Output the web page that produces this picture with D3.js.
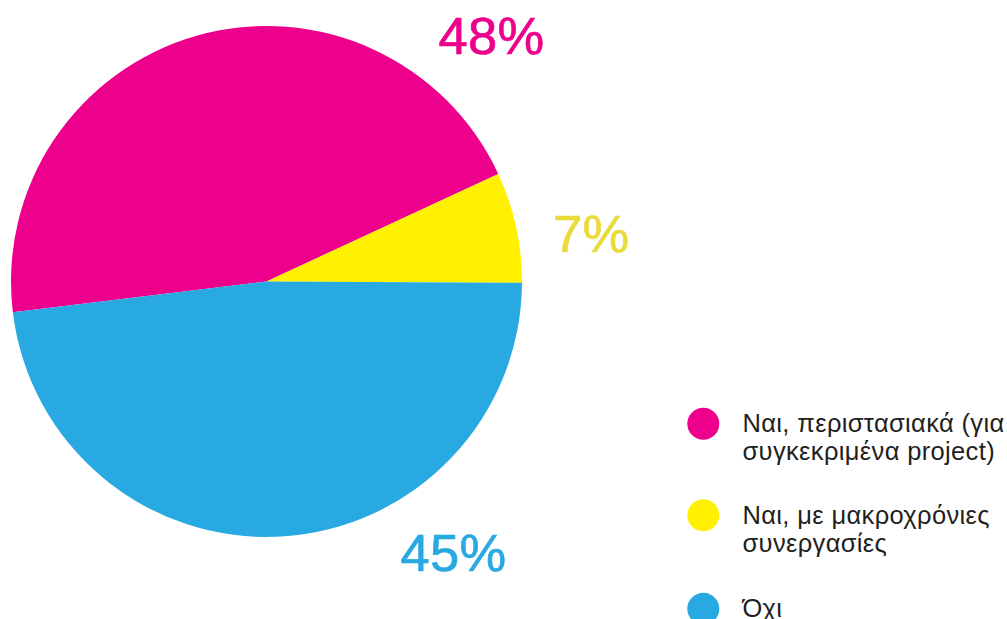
<!DOCTYPE html>
<html>
<head>
<meta charset="utf-8">
<script src="https://cdn.jsdelivr.net/npm/d3@7"></script>
<style>
  html, body { margin: 0; padding: 0; background: #fff; }
  svg { display: block; }
</style>
</head>
<body>
<svg id="chart" width="1007" height="619"></svg>
<script>
// Data (slice sizes as drawn in the reference; labels as printed)
const categories = [
  ["Ναι, περιστασιακά (για", "συγκεκριμένα project)"],
  ["Ναι, με μακροχρόνιες", "συνεργασίες"],
  ["Όχι"]
];
const values = [45, 7, 48];
const valueLabels = ["48%", "7%", "45%"];
const colors = ["#EC008C", "#FFF100", "#29A9E1"];
const labelColors = ["#EC008C", "#E9DB3B", "#29A9E1"];

const svg = d3.select("#chart");
const cx = 266.5, cy = 281.5, r = 255.5;

const pie = d3.pie().sort(null).value(d => d)
  .startAngle(-96.9 * Math.PI / 180)
  .endAngle((360 - 96.9) * Math.PI / 180);
const arcs = pie(values);
const arc = d3.arc().innerRadius(0).outerRadius(r);

const g = svg.append("g").attr("transform", `translate(${cx},${cy})`);
g.selectAll("path").data(arcs).join("path")
  .attr("d", arc)
  .attr("fill", (d, i) => colors[i]);

// value labels
const labelPos = [[438.5, 54], [553, 251.5], [400.5, 570.5]];
svg.selectAll("text.val").data(valueLabels).join("text")
  .attr("class", "val")
  .attr("x", (d, i) => labelPos[i][0])
  .attr("y", (d, i) => labelPos[i][1])
  .attr("fill", (d, i) => labelColors[i])
  .attr("stroke", (d, i) => labelColors[i])
  .attr("stroke-width", 0.7)
  .attr("font-family", "Liberation Sans, Arial, sans-serif")
  .attr("font-size", 52.5)
  .attr("letter-spacing", 0.3)
  .text(d => d);

// legend
const legendY = [423.7, 515.2, 608.7];
const lg = svg.append("g");
categories.forEach((lines, i) => {
  lg.append("circle").attr("cx", 703.3).attr("cy", legendY[i]).attr("r", 16).attr("fill", colors[i]);
  lines.forEach((t, j) => {
    lg.append("text")
      .attr("x", 742.5)
      .attr("y", legendY[i] + 8.6 + j * 28)
      .attr("fill", "#231F20")
      .attr("font-family", "Liberation Sans, Arial, sans-serif")
      .attr("font-size", 25.5)
      .attr("letter-spacing", 0.35)
      .text(t);
  });
});
</script>
</body>
</html>
